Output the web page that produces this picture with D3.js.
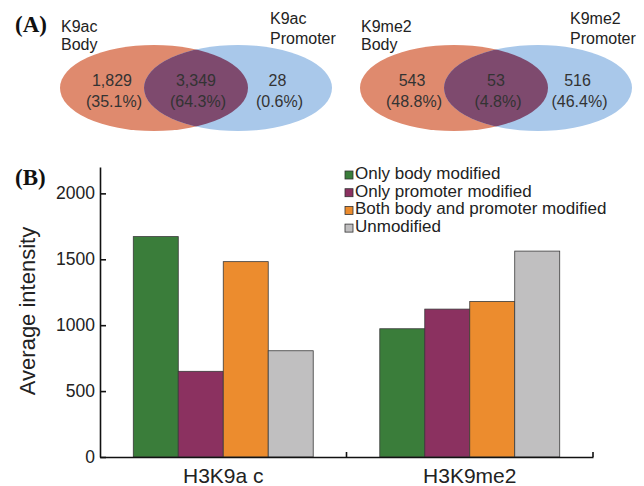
<!DOCTYPE html>
<html>
<head>
<meta charset="utf-8">
<script src="https://cdn.jsdelivr.net/npm/d3@7"></script>
<style>
	body { margin: 0; background: #fff; }
	svg { display: block; }
</style>
</head>
<body>
<div class="chart"></div>
<script>
// Venn data (panel A)
var vennPanels = ['K9ac', 'K9me2'];
var vennBodyCount = [1829, 543];
var vennBothCount = [3349, 53];
var vennPromoterCount = [28, 516];
var vennBodyPct = [35.1, 48.8];
var vennBothPct = [64.3, 4.8];
var vennPromoterPct = [0.6, 46.4];

// Bar data (panel B)
var groups = ['H3K9ac', 'H3K9me2'];
var groupLabels = ['H3K9a c', 'H3K9me2'];
var series = ['Only body modified', 'Only promoter modified', 'Both body and promoter modified', 'Unmodified'];
var valuesK9ac = [1672, 650, 1482, 806];
var valuesK9me2 = [973, 1122, 1180, 1562];
var yTicks = [0, 500, 1000, 1500, 2000];

(function() {
	var width = 644, height = 486;
	var textColor = '#222',
		bodyColor = '#df8a6e',
		promoterColor = '#a9c8ea',
		overlapColor = '#7e4a6e',
		barColors = ['#3a7d3a', '#8b3160', '#ec8c2e', '#c0bfc0'];
	var sans = "'Liberation Sans', Arial, sans-serif";

	var svg = d3.select('.chart').append('svg')
		.attr('width', width)
		.attr('height', height)
		.attr('font-family', sans)
		.attr('fill', textColor);

	// ---------- (A) Venn diagrams ----------
	svg.append('text')
		.attr('x', 15).attr('y', 32)
		.attr('font-family', "'Liberation Serif', 'Times New Roman', serif")
		.attr('font-weight', 'bold')
		.attr('font-size', '23px')
		.attr('fill', '#111')
		.text('(A)');

	var panel = d3.scaleBand().domain(vennPanels).range([0, 600]);
	var vx = d3.scaleLinear().domain([0, 1]).range([154, 238]); // body -> promoter centre
	var cy = 88, rx = 94, ry = 43;
	var defs = svg.append('defs');

	vennPanels.forEach(function(name, i) {
		var g = svg.append('g').attr('transform', 'translate(' + panel(name) + ',0)');
		defs.append('clipPath').attr('id', 'clip-' + i)
			.append('ellipse')
			.attr('cx', vx(1)).attr('cy', cy).attr('rx', rx).attr('ry', ry);
		g.append('ellipse')
			.attr('cx', vx(0)).attr('cy', cy).attr('rx', rx).attr('ry', ry)
			.attr('fill', bodyColor);
		g.append('ellipse')
			.attr('cx', vx(1)).attr('cy', cy).attr('rx', rx).attr('ry', ry)
			.attr('fill', promoterColor);
		g.append('ellipse')
			.attr('cx', vx(0)).attr('cy', cy).attr('rx', rx).attr('ry', ry)
			.attr('clip-path', 'url(#clip-' + i + ')')
			.attr('fill', overlapColor);

		var cells = [
			{pos: -0.5, n: vennBodyCount[i], p: vennBodyPct[i]},
			{pos: 0.5, n: vennBothCount[i], p: vennBothPct[i]},
			{pos: 1.47, n: vennPromoterCount[i], p: vennPromoterPct[i]}
		];
		cells.forEach(function(c) {
			var t = g.append('text')
				.attr('text-anchor', 'middle')
				.attr('font-size', '16px')
				.attr('fill', '#333');
			t.append('tspan').attr('x', vx(c.pos)).attr('y', cy - 2).text(d3.format(',')(c.n));
			t.append('tspan').attr('x', vx(c.pos) + 2).attr('y', cy + 19).text('(' + c.p.toFixed(1) + '%)');
		});

		var bodyLabel = g.append('text').attr('font-size', '16px');
		bodyLabel.append('tspan').attr('x', 61).attr('y', 32).text(name);
		bodyLabel.append('tspan').attr('x', 61).attr('y', 50).text('Body');
		var promLabel = g.append('text').attr('font-size', '16px');
		promLabel.append('tspan').attr('x', 270).attr('y', 24).text(name);
		promLabel.append('tspan').attr('x', 270).attr('y', 44).text('Promoter');
	});

	// ---------- (B) Bar chart ----------
	svg.append('text')
		.attr('x', 15).attr('y', 185)
		.attr('font-family', "'Liberation Serif', 'Times New Roman', serif")
		.attr('font-weight', 'bold')
		.attr('font-size', '23px')
		.attr('fill', '#111')
		.text('(B)');

	var x0 = d3.scaleBand().domain(groups).range([100, 593]);
	var x1 = d3.scaleBand().domain(series).range([0, x0.bandwidth()]).paddingOuter(0.74);
	var y = d3.scaleLinear().domain([0, 2200]).range([457, 167]);
	var color = d3.scaleOrdinal().domain(series).range(barColors);

	var rows = [valuesK9ac, valuesK9me2];
	groups.forEach(function(grp, gi) {
		svg.append('g')
			.selectAll('rect')
			.data(series)
			.enter().append('rect')
			.attr('x', function(s) { return x0(grp) + x1(s); })
			.attr('y', function(s, si) { return y(rows[gi][si]); })
			.attr('width', x1.bandwidth())
			.attr('height', function(s, si) { return y(0) - y(rows[gi][si]); })
			.attr('fill', function(s) { return color(s); })
			.attr('stroke', '#3a3a3a')
			.attr('stroke-width', 0.8);
	});

	// y axis, ticks pointing inward
	var yAxis = svg.append('g')
		.attr('transform', 'translate(100,0)')
		.call(d3.axisLeft(y).tickValues(yTicks).tickFormat(d3.format('d'))
			.tickSizeInner(-6).tickSizeOuter(0).tickPadding(5));
	yAxis.selectAll('text').attr('font-size', '17.5px').attr('font-family', sans).attr('fill', textColor);
	yAxis.selectAll('line, path').attr('stroke', '#111').attr('stroke-width', 1.6);

	// x axis
	var xAxis = svg.append('g')
		.attr('transform', 'translate(0,' + y(0) + ')')
		.call(d3.axisBottom(x0).tickSize(0).tickPadding(11).tickFormat(function(d, i) { return groupLabels[i]; }));
	xAxis.selectAll('text').attr('font-size', '21px').attr('font-family', sans).attr('fill', textColor);
	xAxis.select('path').attr('stroke', '#111').attr('stroke-width', 1.6);
	xAxis.selectAll('.edge')
		.data(groups)
		.enter().append('line')
		.attr('class', 'edge')
		.attr('x1', function(d) { return x0(d) + x0.bandwidth(); })
		.attr('x2', function(d) { return x0(d) + x0.bandwidth(); })
		.attr('y1', 0).attr('y2', -5)
		.attr('stroke', '#111').attr('stroke-width', 1.6);

	svg.append('text')
		.attr('transform', 'translate(35,311) rotate(-90)')
		.attr('text-anchor', 'middle')
		.attr('font-size', '22px')
		.text('Average intensity');

	// legend
	var legend = svg.append('g').attr('transform', 'translate(345,171)');
	var item = legend.selectAll('g')
		.data(series)
		.enter().append('g')
		.attr('transform', function(d, i) { return 'translate(0,' + (i * 17.7) + ')'; });
	item.append('rect')
		.attr('width', 8).attr('height', 8)
		.attr('fill', function(d) { return color(d); })
		.attr('stroke', '#333').attr('stroke-width', 0.8);
	item.append('text')
		.attr('x', 10).attr('y', 8)
		.attr('font-size', '17px')
		.text(function(d) { return d; });
})();
</script>
</body>
</html>
